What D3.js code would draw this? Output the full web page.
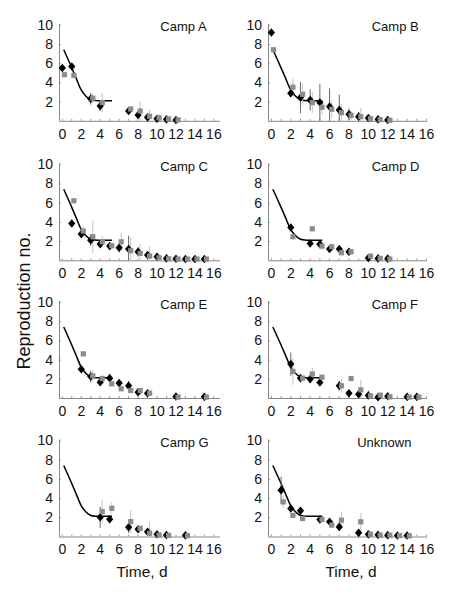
<!DOCTYPE html>
<html><head><meta charset="utf-8">
<script src="https://cdn.jsdelivr.net/npm/d3@7"></script>
<style>
html,body{margin:0;padding:0;background:#fff;}
svg{display:block;font-family:"Liberation Sans",Arial,sans-serif;}
</style></head>
<body><svg id="c" width="457" height="594"></svg>
<script>
// ---- data: [day, mean, half error] ----
const panelNames = ["Camp A","Camp B","Camp C","Camp D","Camp E","Camp F","Camp G","Unknown"];
const xTickValues = [0,2,4,6,8,10,12,14,16];
const yTickValues = [2,4,6,8,10];
const fitT = [0.2,0.5,1,1.5,2,2.5,3,3.5,4,4.5,5.3];
const fitY = [7.4,6.75,5.62,4.47,3.3,2.6,2.22,2.12,2.1,2.1,2.1];

const campA_black = [[0,5.5,0],[1,5.65,0],[3,2.3,0.6],[4,1.55,0.55],[7,1.02,0.3],[8,0.6,0.3],[9,0.36,0.25],[10,0.22,0.1],[11,0.15,0.05],[12,0.08,0]];
const campA_grey  = [[0,4.8,0],[1,4.72,0],[3,2.35,0.5],[4,1.9,1.0],[7,1.23,0.3],[8,1.02,1.0],[9,0.47,0.7],[10,0.3,0.45],[11,0.19,0.15],[12,0.1,0.05]];
const campB_black = [[0,9.2,0],[2,2.87,0.4],[3,2.42,1.65],[4,2.17,1.1],[5,1.9,1.95],[6,1.48,1.9],[7,1.13,1.6],[8,0.68,0.6],[9,0.43,0.5],[10,0.29,0.3],[11,0.15,0.1],[12,0.08,0.05]];
const campB_grey  = [[0,7.4,0],[2,3.5,0.9],[3,2.76,1.1],[4,1.9,1.1],[5,1.41,0.8],[6,1.2,0.9],[7,0.85,0.9],[8,0.57,0.5],[9,0.43,0.9],[10,0.22,0.3],[11,0.12,0.1],[12,0.05,0.05]];
const campC_black = [[1,3.84,0.3],[2,2.73,0.4],[3,2.1,0.6],[4,1.69,0.3],[5,1.48,0.3],[6,1.31,0.5],[7,1.17,1.4],[8,0.89,0.5],[9,0.55,0.3],[10,0.37,0.2],[11,0.2,0.1],[12,0.16,0.05],[13,0.13,0],[14,0.13,0],[15,0.13,0]];
const campC_grey  = [[1,6.2,0],[2,3.04,0.5],[3,2.45,1.7],[4,1.93,0.6],[5,1.52,0.3],[6,1.93,0.9],[7,1.0,1.4],[8,0.72,1.0],[9,0.44,1.0],[10,0.26,0.3],[11,0.16,0.1],[12,0.13,0.05],[13,0.13,0],[14,0.13,0],[15,0.13,0]];
const campD_black = [[2,3.42,0.3],[4,1.75,0.2],[5,1.68,0.3],[6,1.17,0.3],[7,1.17,0.2],[8,0.89,0.2],[10,0.24,0.1],[11,0.2,0.05],[12,0.17,0]];
const campD_grey  = [[2,2.45,0.2],[4,3.28,0],[5,1.48,0.4],[6,1.41,0.4],[7,0.79,0.2],[8,0.89,0.2],[10,0.44,0.1],[11,0.2,0.05],[12,0.13,0]];
const campE_black = [[2,3.0,0.3],[3,2.24,0.6],[4,1.65,0.3],[5,2.07,0.2],[6,1.55,0.3],[7,1.27,0.5],[8,0.61,0.3],[9,0.5,0.3],[12,0.16,0],[15,0.12,0]];
const campE_grey  = [[2,4.6,0],[3,2.3,0.6],[4,2.03,0.4],[5,1.48,0.2],[6,0.96,0.2],[7,0.78,0.2],[8,0.78,0.2],[9,0.5,0.2],[12,0.09,0],[15,0.09,0]];
const campF_black = [[2,3.53,1.2],[3,2.07,0.3],[4,1.97,0.4],[5,1.62,0.2],[7,1.27,0.5],[8,0.5,0.2],[9,0.4,0.3],[10,0.26,0.5],[11,0.09,0],[12,0.19,0.1],[14,0.12,0],[15,0.12,0]];
const campF_grey  = [[2,2.77,1.4],[3,2.07,0.2],[4,2.5,0.6],[5,2.17,0.2],[7,1.27,0.7],[8,2.03,0],[9,0.85,1.0],[10,0.23,0.2],[11,0.3,0.1],[12,0.12,0.05],[14,0.09,0],[15,0.09,0]];
const campG_black = [[4,2.0,1.1],[5,1.79,0.4],[7,0.96,0.6],[8,0.75,0.3],[9,0.5,0.3],[10,0.23,0.1],[11,0.16,0.05],[13,0.12,0]];
const campG_grey  = [[4,2.59,1.2],[5,2.94,0.6],[7,1.55,1.2],[8,0.85,0.3],[9,0.33,1.2],[10,0.16,0.1],[11,0.12,0.05],[13,0.09,0]];
const unknown_black = [[1,4.83,1.4],[2,2.92,0.3],[3,2.68,0.2],[5,1.77,0.4],[6,1.53,0.2],[7,1.0,0.4],[9,0.38,0.3],[10,0.24,0.3],[11,0.17,0.1],[12,0.14,0.05],[13,0.1,0],[14,0.1,0]];
const unknown_grey  = [[1,3.6,0.6],[2,2.2,0.2],[3,1.87,0.1],[5,1.77,0.2],[6,1.18,0.2],[7,1.7,0.9],[9,1.53,0.9],[10,0.24,0.3],[11,0.14,0.1],[12,0.14,0.05],[13,0.1,0],[14,0.07,0]];

const blackSeries = [campA_black,campB_black,campC_black,campD_black,campE_black,campF_black,campG_black,unknown_black];
const greySeries  = [campA_grey,campB_grey,campC_grey,campD_grey,campE_grey,campF_grey,campG_grey,unknown_grey];

// ---- layout ----
const svg = d3.select("#c");
const colRange = [[59,220],[268,427]];
const colDomainMax = [16.7, 16.1];
const rowBase = [120.8, 260.3, 398, 536.5];
const plotH = 96;
const blackOff = 0.05, greyOff = 0.27;
const FONT = "Liberation Sans, Arial, sans-serif";

const fitPts = fitT.map((t,i)=>[t,fitY[i]]);

panelNames.forEach((name, i) => {
  const col = i % 2, row = Math.floor(i/2);
  const x = d3.scaleLinear().domain([-0.3, colDomainMax[col]]).range(colRange[col]);
  const y = d3.scaleLinear().domain([0,10]).range([rowBase[row], rowBase[row]-plotH]);
  const g = svg.append("g");

  // axes
  const xa = g.append("g").attr("transform",`translate(0,${y(0)})`)
    .call(d3.axisBottom(x).tickValues(d3.range(0,17,1)).tickSize(-2).tickFormat(""));
  xa.select(".domain").remove();
  xa.selectAll(".tick line").attr("stroke","#999");
  g.append("line").attr("x1",colRange[col][0]).attr("x2",colRange[col][1])
    .attr("y1",y(0)+0.5).attr("y2",y(0)+0.5).attr("stroke","#888");
  const xl = g.append("g").attr("transform",`translate(0,${y(0)})`)
    .call(d3.axisBottom(x).tickValues(xTickValues).tickSize(0).tickPadding(8));
  xl.select(".domain").remove();
  xl.selectAll("text").attr("font-size","14px").attr("fill","#111").attr("font-family",FONT);

  const ya = g.append("g").attr("transform",`translate(${x(-0.3)},0)`)
    .call(d3.axisLeft(y).tickValues(yTickValues).tickSize(-2).tickPadding(6));
  ya.select(".domain").remove();
  ya.selectAll(".tick line").attr("stroke","#999");
  ya.selectAll("text").attr("font-size","14px").attr("fill","#111").attr("font-family",FONT);
  g.append("line").attr("x1",x(-0.3)+0.5).attr("x2",x(-0.3)+0.5)
    .attr("y1",y(0)).attr("y2",y(10)-1).attr("stroke","#888");

  // fitted curve
  g.append("path").datum(fitPts)
    .attr("d", d3.line().x(d=>x(d[0])).y(d=>y(d[1])).curve(d3.curveMonotoneX))
    .attr("fill","none").attr("stroke","#000").attr("stroke-width",1.5);

  const bs = blackSeries[i], gs = greySeries[i];
  // error bars
  g.selectAll(".eb").data(bs.filter(d=>d[2]>0)).join("line")
    .attr("x1",d=>x(d[0]+blackOff)).attr("x2",d=>x(d[0]+blackOff))
    .attr("y1",d=>y(Math.max(0,d[1]-d[2]))).attr("y2",d=>y(d[1]+d[2]))
    .attr("stroke","#666").attr("stroke-width",1);
  g.selectAll(".eg").data(gs.filter(d=>d[2]>0)).join("line")
    .attr("x1",d=>x(d[0]+greyOff)).attr("x2",d=>x(d[0]+greyOff))
    .attr("y1",d=>y(Math.max(0,d[1]-d[2]))).attr("y2",d=>y(d[1]+d[2]))
    .attr("stroke","#c4c4c4").attr("stroke-width",1);

  // diamonds
  g.selectAll(".dm").data(bs).join("path")
    .attr("d", d=>{const cx=x(d[0]+blackOff), cy=y(d[1]);
      return `M${cx},${cy-4.3}L${cx+3.6},${cy}L${cx},${cy+4.3}L${cx-3.6},${cy}Z`;})
    .attr("fill","#000");
  // squares
  g.selectAll(".sq").data(gs).join("rect")
    .attr("x",d=>x(d[0]+greyOff)-2.6).attr("y",d=>y(d[1])-2.6)
    .attr("width",5.2).attr("height",5.2).attr("fill","#8c8c8c");

  // panel label
  const lx = name === "Unknown" ? x(8.9) : x(10.4);
  g.append("text").attr("x",lx).attr("y",y(10)+6.5)
    .attr("font-size","13px").attr("fill","#111").attr("font-family",FONT).text(name);
});

// axis titles
svg.append("text").attr("transform","translate(30,301) rotate(-90)")
  .attr("text-anchor","middle").attr("font-size","18px").attr("fill","#111")
  .text("Reproduction no.");
svg.append("text").attr("x",142).attr("y",577).attr("text-anchor","middle")
  .attr("font-size","15.5px").attr("fill","#111").text("Time, d");
svg.append("text").attr("x",351).attr("y",577).attr("text-anchor","middle")
  .attr("font-size","15.5px").attr("fill","#111").text("Time, d");
</script></body></html>
